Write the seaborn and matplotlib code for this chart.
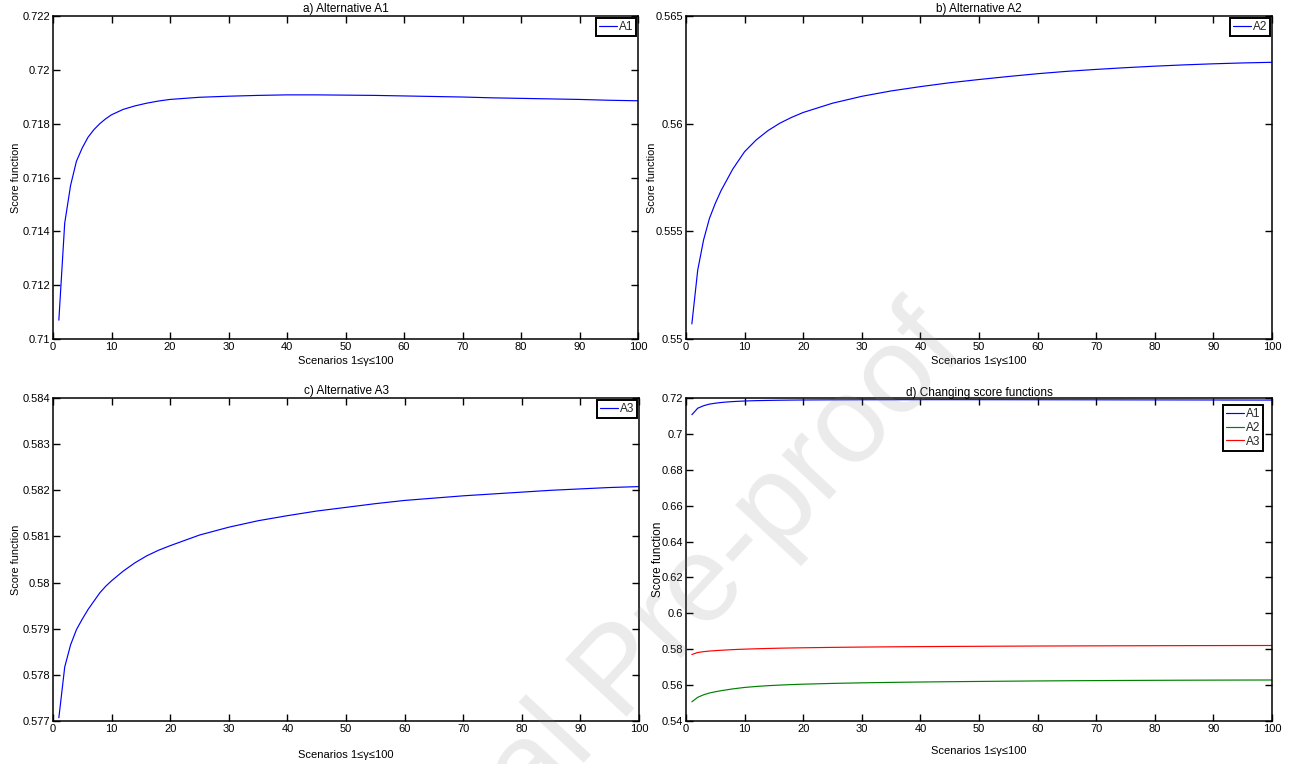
import numpy as np
import pandas as pd
import matplotlib
matplotlib.use("Agg")
import matplotlib.pyplot as plt
from matplotlib.ticker import FuncFormatter
import seaborn as sns

# ---------------- data ----------------
scenarios = [1, 2, 3, 4, 5, 6, 7, 8, 9, 10, 12, 14, 16, 18, 20, 25, 30, 35, 40,
             45, 50, 55, 60, 65, 70, 75, 80, 85, 90, 95, 100]
a1 = [0.7107, 0.7143, 0.7157, 0.7166, 0.7171, 0.71750, 0.71778, 0.71800, 0.71818,
      0.71833, 0.71853, 0.71866, 0.71876, 0.71884, 0.71890, 0.71898, 0.71902,
      0.71905, 0.71907, 0.71907, 0.71906, 0.71905, 0.71903, 0.71901, 0.71899,
      0.71896, 0.71894, 0.71892, 0.71890, 0.71887, 0.71885]
a2 = [0.5507, 0.5532, 0.5546, 0.5556, 0.5563, 0.5569, 0.5574, 0.5579, 0.5583,
      0.5587, 0.55925, 0.55968, 0.56002, 0.56029, 0.56052, 0.56095, 0.56127,
      0.56152, 0.56172, 0.56190, 0.56205, 0.56219, 0.56232, 0.56243, 0.56252,
      0.56260, 0.56267, 0.56273, 0.56278, 0.56282, 0.56285]
a3 = [0.57707, 0.57817, 0.57865, 0.57898, 0.57921, 0.57942, 0.57960, 0.57978,
      0.57992, 0.58004, 0.58025, 0.58043, 0.58058, 0.58070, 0.58080, 0.58103,
      0.58120, 0.58134, 0.58145, 0.58155, 0.58163, 0.58171, 0.58178, 0.58183,
      0.58188, 0.58192, 0.58196, 0.58200, 0.58203, 0.58206, 0.58208]

series_names = ["A1", "A2", "A3"]
panel_titles = ["a) Alternative A1", "b) Alternative A2", "c) Alternative A3",
                "d) Changing score functions"]
x_label = "Scenarios 1\u2264\u03b3\u2264100"
y_label = "Score function"
x_ticks = [0, 10, 20, 30, 40, 50, 60, 70, 80, 90, 100]
y_ticks_a = [0.710, 0.712, 0.714, 0.716, 0.718, 0.720, 0.722]
y_ticks_b = [0.550, 0.555, 0.560, 0.565]
y_ticks_c = [0.577, 0.578, 0.579, 0.580, 0.581, 0.582, 0.583, 0.584]
y_ticks_d = [0.54, 0.56, 0.58, 0.60, 0.62, 0.64, 0.66, 0.68, 0.70, 0.72]
watermark = "Journal Pre-proof"

# ---------------- style ----------------
sns.set_theme(style="white")
plt.rcParams["font.family"] = ["Liberation Sans", "DejaVu Sans"]
plt.rcParams["axes.linewidth"] = 1.1
plt.rcParams["axes.edgecolor"] = "black"

long = pd.DataFrame({
    "x": scenarios * 3,
    "y": a1 + a2 + a3,
    "series": [s for s in series_names for _ in scenarios],
})

fig = plt.figure(figsize=(12.96, 7.64), dpi=100)
W, H = 1296, 764


def add_ax(l, r, t, b):
    return fig.add_axes([l / W, 1 - b / H, (r - l) / W, (b - t) / H])


ax_a = add_ax(53, 638, 16, 339)
ax_b = add_ax(686, 1272, 16, 339)
ax_c = add_ax(53, 639, 398, 721)
ax_d = add_ax(686, 1272, 398, 721)

fmt = FuncFormatter(lambda v, p: f"{v:g}")
FS = 8


def style(ax, yticks, title, xlabpad, titlepad, ylab_x, ylab_fs=7.8):
    ax.set_xlim(x_ticks[0], x_ticks[-1])
    ax.set_ylim(yticks[0], yticks[-1])
    ax.set_xticks(x_ticks)
    ax.set_yticks(yticks)
    ax.yaxis.set_major_formatter(fmt)
    ax.tick_params(direction="in", top=True, right=True, bottom=True, left=True,
                   length=5, width=1, labelsize=FS, colors="black", pad=2)
    ax.set_title(title, fontsize=8.5, pad=titlepad, color="black")
    ax.set_xlabel(x_label, fontsize=FS, labelpad=xlabpad, color="black")
    ax.set_ylabel(y_label, fontsize=ylab_fs, color="black")
    ax.yaxis.set_label_coords(ylab_x, 0.5)
    for s in ax.spines.values():
        s.set_visible(True)
        s.set_color("black")


def make_legend(ax, anchor, spacing):
    leg = ax.legend(loc="upper right", bbox_to_anchor=anchor, fontsize=8.5,
                    frameon=True, fancybox=False, edgecolor="black", framealpha=1,
                    handlelength=1.5, handletextpad=0.15, borderpad=0.25,
                    borderaxespad=0.0, labelspacing=spacing)
    leg.get_frame().set_linewidth(1.4)


for ax, vals, name, ticks, title, pad, yx in [
    (ax_a, a1, "A1", y_ticks_a, panel_titles[0], 3, -0.055),
    (ax_b, a2, "A2", y_ticks_b, panel_titles[1], 3, -0.050),
    (ax_c, a3, "A3", y_ticks_c, panel_titles[2], 12, -0.055),
]:
    sns.lineplot(x=scenarios, y=vals, color="#0000ff", linewidth=0.85,
                 label=name, ax=ax)
    style(ax, ticks, title, pad, 3, yx)
    make_legend(ax, (0.997, 0.993), 0.05)

sns.lineplot(data=long, x="x", y="y", hue="series",
             palette={"A1": "#0000ff", "A2": "#008000", "A3": "#ff0000"},
             linewidth=0.85, ax=ax_d)
style(ax_d, y_ticks_d, panel_titles[3], 9, 1.5, -0.038, ylab_fs=8.5)
make_legend(ax_d, (0.985, 0.978), 0.15)

fig.text(0.4800, 0.1165, watermark, fontsize=88, rotation=47,
         rotation_mode="anchor", ha="center", va="center",
         color=(0.5, 0.5, 0.5), alpha=0.16, zorder=100)

fig.savefig("out.png", dpi=100, facecolor="white")
